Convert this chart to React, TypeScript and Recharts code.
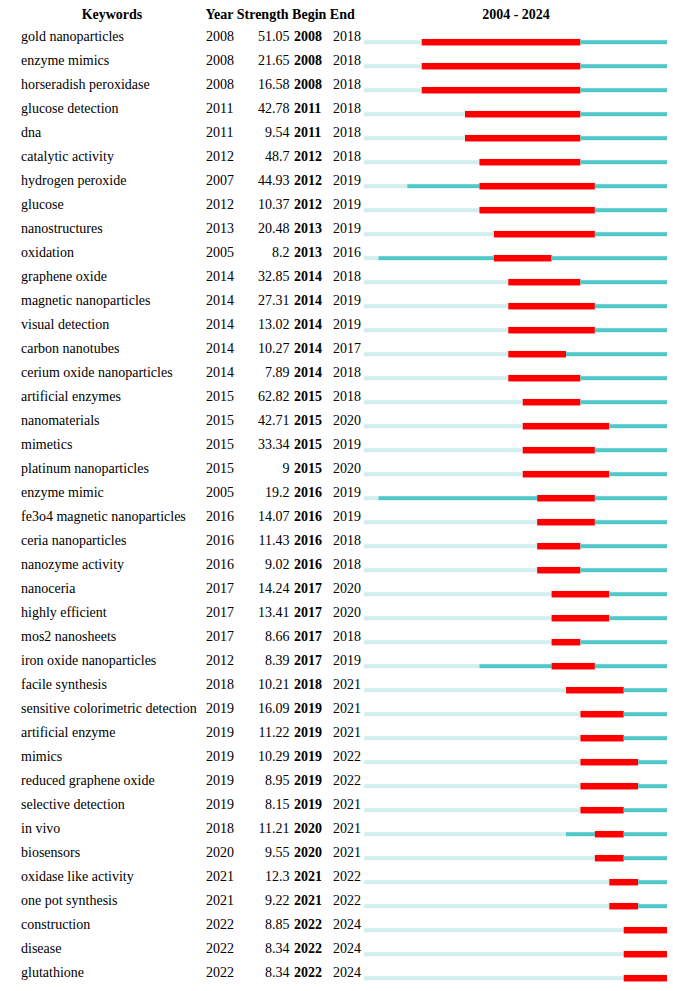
import { BarChart, Bar, XAxis, YAxis } from 'recharts';

const START = 2004;
const LAST = 2024;
const FONT = "'Liberation Serif', 'Times New Roman', Times, serif";

const keywords = [
  'gold nanoparticles',
  'enzyme mimics',
  'horseradish peroxidase',
  'glucose detection',
  'dna',
  'catalytic activity',
  'hydrogen peroxide',
  'glucose',
  'nanostructures',
  'oxidation',
  'graphene oxide',
  'magnetic nanoparticles',
  'visual detection',
  'carbon nanotubes',
  'cerium oxide nanoparticles',
  'artificial enzymes',
  'nanomaterials',
  'mimetics',
  'platinum nanoparticles',
  'enzyme mimic',
  'fe3o4 magnetic nanoparticles',
  'ceria nanoparticles',
  'nanozyme activity',
  'nanoceria',
  'highly efficient',
  'mos2 nanosheets',
  'iron oxide nanoparticles',
  'facile synthesis',
  'sensitive colorimetric detection',
  'artificial enzyme',
  'mimics',
  'reduced graphene oxide',
  'selective detection',
  'in vivo',
  'biosensors',
  'oxidase like activity',
  'one pot synthesis',
  'construction',
  'disease',
  'glutathione',
];

const years = [
  2008, 2008, 2008, 2011, 2011, 2012, 2007, 2012, 2013, 2005,
  2014, 2014, 2014, 2014, 2014, 2015, 2015, 2015, 2015, 2005,
  2016, 2016, 2016, 2017, 2017, 2017, 2012, 2018, 2019, 2019,
  2019, 2019, 2019, 2018, 2020, 2021, 2021, 2022, 2022, 2022,
];

const strengths = [
  '51.05', '21.65', '16.58', '42.78', '9.54', '48.7', '44.93', '10.37', '20.48', '8.2',
  '32.85', '27.31', '13.02', '10.27', '7.89', '62.82', '42.71', '33.34', '9', '19.2',
  '14.07', '11.43', '9.02', '14.24', '13.41', '8.66', '8.39', '10.21', '16.09', '11.22',
  '10.29', '8.95', '8.15', '11.21', '9.55', '12.3', '9.22', '8.85', '8.34', '8.34',
];

const begins = [
  2008, 2008, 2008, 2011, 2011, 2012, 2012, 2012, 2013, 2013,
  2014, 2014, 2014, 2014, 2014, 2015, 2015, 2015, 2015, 2016,
  2016, 2016, 2016, 2017, 2017, 2017, 2017, 2018, 2019, 2019,
  2019, 2019, 2019, 2020, 2020, 2021, 2021, 2022, 2022, 2022,
];

const ends = [
  2018, 2018, 2018, 2018, 2018, 2018, 2019, 2019, 2019, 2016,
  2018, 2019, 2019, 2017, 2018, 2018, 2020, 2019, 2020, 2019,
  2019, 2018, 2018, 2020, 2020, 2018, 2019, 2021, 2021, 2021,
  2022, 2022, 2021, 2021, 2021, 2022, 2022, 2024, 2024, 2024,
];

// segments of each timeline, in years, stacked left to right
const data = keywords.map((keyword, i) => ({
  keyword,
  before: years[i] - START,
  quiet: begins[i] - years[i],
  burst: ends[i] + 1 - begins[i],
  after: LAST - ends[i],
}));

const segment = (fill: string, thick: number) => (props: any) => {
  const { x, y, width, height } = props;
  if (!width || width <= 0) return <g />;
  const cy = y + height / 2;
  return <rect x={x} y={cy - thick / 2} width={width} height={thick} fill={fill} />;
};

const txt = { fontFamily: FONT, fontSize: 14, fill: '#000' };

const RowTick = (props: any) => {
  const { y, payload } = props;
  const i = payload.index;
  const by = y - 0.5;
  return (
    <g>
      <text x={21} y={by} style={txt}>{keywords[i]}</text>
      <text x={206} y={by} style={txt}>{years[i]}</text>
      <text x={289.5} y={by} textAnchor="end" style={txt}>{strengths[i]}</text>
      <text x={294} y={by} style={{ ...txt, fontWeight: 'bold' }}>{begins[i]}</text>
      <text x={333} y={by} style={txt}>{ends[i]}</text>
    </g>
  );
};

const head = { ...txt, fontWeight: 'bold' as const };

export default function App() {
  return (
    <div
      style={{
        position: 'absolute',
        left: 0,
        top: 0,
        width: 673,
        height: 991,
        background: '#fff',
        fontFamily: FONT,
      }}
    >
      <svg width={673} height={30} style={{ position: 'absolute', left: 0, top: 0 }}>
        <text x={112} y={18.5} textAnchor="middle" style={head}>Keywords</text>
        <text x={205.5} y={18.5} style={head}>Year Strength Begin End</text>
        <text x={516} y={18.5} textAnchor="middle" style={head}>{`${START} - ${LAST}`}</text>
      </svg>
      <BarChart
        width={673}
        height={991}
        data={data}
        layout="vertical"
        margin={{ top: 29.7, right: 6, left: 0, bottom: 1.3 }}
        barSize={7}
      >
        <XAxis type="number" domain={[0, LAST - START + 1]} hide />
        <YAxis
          type="category"
          dataKey="keyword"
          width={364}
          interval={0}
          axisLine={false}
          tickLine={false}
          tick={<RowTick />}
        />
        <Bar dataKey="before" stackId="t" fill="#d2eeef" shape={segment('#d2eeef', 4)} isAnimationActive={false} />
        <Bar dataKey="quiet" stackId="t" fill="#4ec8c8" shape={segment('#4ec8c8', 4)} isAnimationActive={false} />
        <Bar dataKey="burst" stackId="t" fill="#ff0000" shape={segment('#ff0000', 6.5)} isAnimationActive={false} />
        <Bar dataKey="after" stackId="t" fill="#4ec8c8" shape={segment('#4ec8c8', 4)} isAnimationActive={false} />
      </BarChart>
    </div>
  );
}
